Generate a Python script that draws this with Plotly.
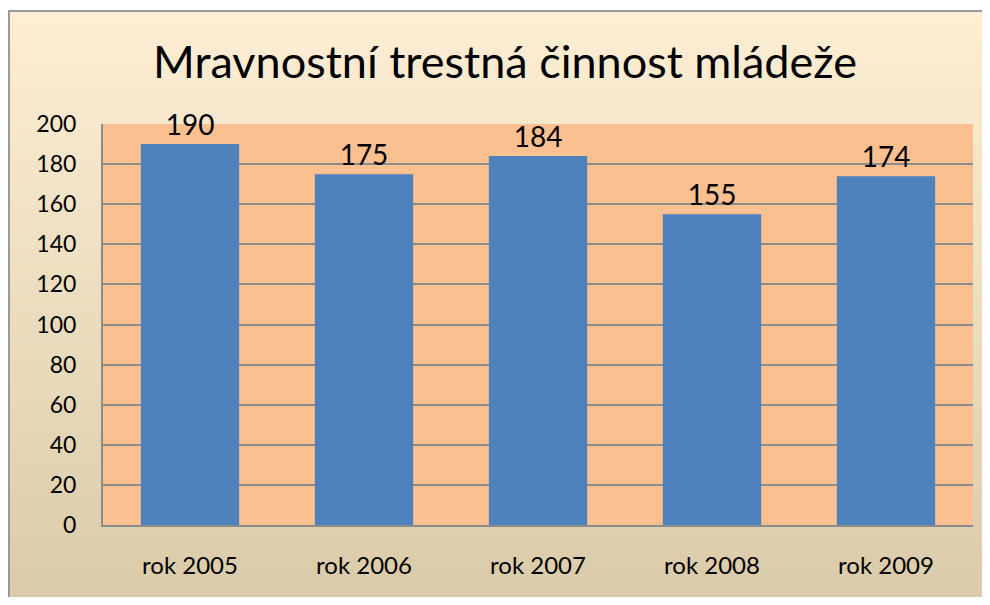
import plotly.graph_objects as go

categories = ["rok 2005", "rok 2006", "rok 2007", "rok 2008", "rok 2009"]
values = [190, 175, 184, 155, 174]
y_ticks = [0, 20, 40, 60, 80, 100, 120, 140, 160, 180, 200]
title_text = "Mravnostní trestná činnost mládeže"

FONT = "Lato"

fig = go.Figure()
fig.add_trace(go.Bar(
    x=categories, y=values,
    marker=dict(color="#4F81BD", line=dict(width=0)),
    width=0.565,
    text=[str(v) for v in values], textposition="outside",
    textfont=dict(family=FONT, size=28, color="black"),
    cliponaxis=False,
))

# figure sized to fit the window together with the page's 8px body margin
W, H = 982, 589
L, R, T, B = 95, 17, 116, 72
pw, ph = W - L - R, H - T - B

def px_to_paper_x(px):
    return (px - L) / pw

def px_to_paper_y(py):
    return (H - B - py) / ph

shapes = []
# gradient background strips
top_c = (253, 238, 212)
bot_c = (218, 204, 170)
n = 60
y_top, y_bot = 3, H
for i in range(n):
    t = i / (n - 1)
    c = tuple(int(round(top_c[k] + (bot_c[k] - top_c[k]) * t)) for k in range(3))
    ya = y_top + (y_bot - y_top) * i / n
    yb = y_top + (y_bot - y_top) * (i + 1) / n + 1
    if i == n - 1:
        yb = H + 5
    shapes.append(dict(type="rect", xref="paper", yref="paper", layer="below",
                       x0=px_to_paper_x(0), x1=px_to_paper_x(W + 5),
                       y0=px_to_paper_y(yb), y1=px_to_paper_y(ya),
                       fillcolor="rgb(%d,%d,%d)" % c, line=dict(width=0)))
# outer border: top and left edges only (the rest lies outside the view)
border = dict(width=2, color="#9A9A9A")
shapes.append(dict(type="line", xref="paper", yref="paper", layer="below",
                   x0=px_to_paper_x(0), x1=px_to_paper_x(W),
                   y0=px_to_paper_y(3), y1=px_to_paper_y(3), line=border))
shapes.append(dict(type="line", xref="paper", yref="paper", layer="below",
                   x0=px_to_paper_x(1), x1=px_to_paper_x(1),
                   y0=px_to_paper_y(2), y1=px_to_paper_y(H), line=border))
# plot area background
shapes.append(dict(type="rect", xref="x domain", yref="y domain", layer="below",
                   x0=0, x1=1, y0=0, y1=1, fillcolor="#FAC090", line=dict(width=0)))

fig.update_layout(
    width=W, height=H,
    margin=dict(l=L, r=R, t=T, b=B, autoexpand=False),
    paper_bgcolor="white",
    plot_bgcolor="rgba(0,0,0,0)",
    shapes=shapes,
    showlegend=False,
    bargap=0.435,
    title=dict(text=title_text, x=497 / W, xref="container", xanchor="center",
               y=1 - 54 / H, yref="container", yanchor="middle",
               font=dict(family=FONT, size=45, color="black")),
    font=dict(family=FONT, color="black"),
)
fig.update_xaxes(
    showline=True, linecolor="#8C8C8C", linewidth=2,
    ticks="", tickfont=dict(family=FONT, size=24, color="black"),
    ticklabelstandoff=18, showgrid=False, automargin=False,
)
fig.update_yaxes(
    range=[0, 200], tickvals=y_ticks, ticks="",
    showline=True, linecolor="#8C8C8C", linewidth=2,
    showgrid=True, gridcolor="#8C8C8C", gridwidth=1.5,
    tickfont=dict(family=FONT, size=23, color="black"),
    ticklabelstandoff=20, zeroline=False, automargin=False,
)

fig.write_html("out.html")
